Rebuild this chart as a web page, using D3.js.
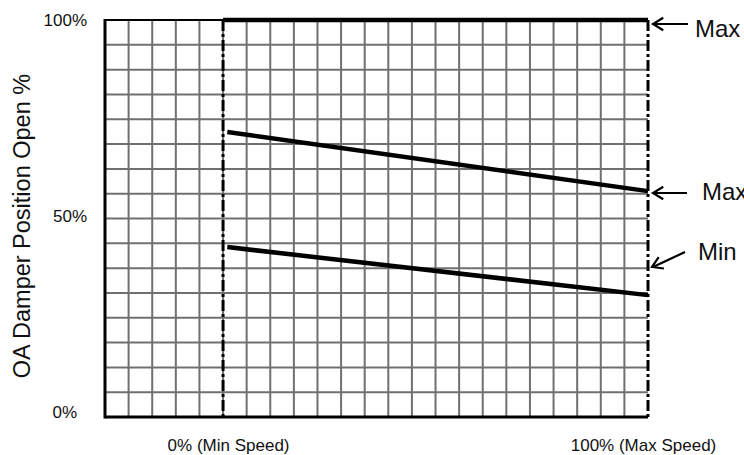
<!DOCTYPE html>
<html>
<head>
<meta charset="utf-8">
<script src="https://cdn.jsdelivr.net/npm/d3@7/dist/d3.min.js"></script>
<style>
  html, body { margin: 0; padding: 0; background: #fff; }
  svg { display: block; }
  text { font-family: "Liberation Sans", Arial, sans-serif; fill: #111; }
</style>
</head>
<body>
<svg id="chart" width="744" height="455"></svg>
<script>
// ---- data ----
const speedTicks = [0, 100];
const speedTickLabels = ["0% (Min Speed)", "100% (Max Speed)"];
const positionTicks = [0, 50, 100];
const positionTickLabels = ["0%", "50%", "100%"];
const seriesNames = ["Max", "Max", "Min"];
const seriesSpeed = [[0, 100], [1, 100], [1, 100]];
const seriesPosition = [[100, 100], [71.8, 56.9], [42.8, 30.7]];
const gridColumns = 23;   // grid cells across
const gridRows = 16;      // grid cells up
const minSpeedColumn = 5; // column where 0% speed sits

(function () {
const svg = d3.select("#chart");
const pL = 105, pR = 648, pT = 20, pB = 417;

const col = d3.scaleLinear().domain([0, gridColumns]).range([pL, pR]);
const x = d3.scaleLinear().domain([0, 100]).range([col(minSpeedColumn), pR]);
const y = d3.scaleLinear().domain([0, 100]).range([pB, pT]);
const row = d3.scaleLinear().domain([0, gridRows]).range([pB, pT]);

// grid
const g = svg.append("g");
g.selectAll("line.v").data(d3.range(1, gridColumns)).join("line")
  .attr("x1", d => col(d)).attr("x2", d => col(d))
  .attr("y1", pT).attr("y2", pB)
  .attr("stroke", "#707070").attr("stroke-width", 2);
g.selectAll("line.h").data(d3.range(1, gridRows)).join("line")
  .attr("x1", pL).attr("x2", pR)
  .attr("y1", d => row(d)).attr("y2", d => row(d))
  .attr("stroke", "#707070").attr("stroke-width", 2);

// frame
g.append("line").attr("x1", pL).attr("x2", x(0)).attr("y1", pT).attr("y2", pT)
  .attr("stroke", "#000").attr("stroke-width", 2);
g.append("line").attr("x1", pL).attr("x2", pL).attr("y1", pT - 1).attr("y2", pB + 1.5)
  .attr("stroke", "#000").attr("stroke-width", 3);
g.append("line").attr("x1", pL).attr("x2", pR).attr("y1", pB).attr("y2", pB)
  .attr("stroke", "#000").attr("stroke-width", 3);

// dash-dot verticals at min & max speed
svg.selectAll("line.dd").data(speedTicks).join("line")
  .attr("x1", d => x(d)).attr("x2", d => x(d))
  .attr("y1", pT).attr("y2", pB + 1)
  .attr("stroke", "#000").attr("stroke-width", 3)
  .attr("stroke-dasharray", "11,3,3,3");

// series lines
const line = d3.line().x(d => x(d[0])).y(d => y(d[1]));
svg.selectAll("path.s").data(seriesSpeed.map((s, i) => s.map((v, j) => [v, seriesPosition[i][j]])))
  .join("path")
  .attr("d", line)
  .attr("fill", "none").attr("stroke", "#000").attr("stroke-width", 4.5);

// x axis labels
const xAxis = d3.axisBottom(x).tickValues(speedTicks).tickSize(0)
  .tickFormat((d, i) => speedTickLabels[i]);
const xa = svg.append("g").attr("transform", `translate(0,${pB})`).call(xAxis);
xa.select(".domain").remove();
xa.selectAll("text").attr("font-size", 17).attr("font-family", "Liberation Sans, Arial, sans-serif")
  .attr("fill", "#111").attr("y", 34).attr("dy", 0)
  .attr("dx", (d, i) => i === 0 ? 5 : -5);

// y axis labels
const yAxis = d3.axisLeft(y).tickValues(positionTicks).tickSize(0)
  .tickFormat((d, i) => positionTickLabels[i]);
const ya = svg.append("g").attr("transform", `translate(${pL},0)`).call(yAxis);
ya.select(".domain").remove();
ya.selectAll("text").attr("font-size", 17).attr("font-family", "Liberation Sans, Arial, sans-serif")
  .attr("fill", "#111").attr("x", d => d === 0 ? -28 : -18)
  .attr("dy", d => d === 0 ? "0.0em" : (d === 100 ? "0.35em" : "0.2em"));

// y title
svg.append("text")
  .attr("transform", `translate(30, 226) rotate(-90)`)
  .attr("text-anchor", "middle")
  .attr("font-size", 23.5)
  .text("OA Damper Position Open %");

// annotations with arrows
const annot = [
  { tip: [653, 24], tail: [688, 24], label: [695, 37] },
  { tip: [653, 193], tail: [687, 193], label: [702, 200] },
  { tip: [652, 267], tail: [685, 252], label: [698, 260] }
];
annot.forEach((a, i) => {
  svg.append("line").attr("x1", a.tip[0] + 1).attr("y1", a.tip[1]).attr("x2", a.tail[0]).attr("y2", a.tail[1])
    .attr("stroke", "#000").attr("stroke-width", 2.2);
  const ang = Math.atan2(a.tail[1] - a.tip[1], a.tail[0] - a.tip[0]);
  const L = 12, W = 0.55;
  const p1 = [a.tip[0] + L * Math.cos(ang + W), a.tip[1] + L * Math.sin(ang + W)];
  const p2 = [a.tip[0] + L * Math.cos(ang - W), a.tip[1] + L * Math.sin(ang - W)];
  svg.append("path").attr("d", `M${p1}L${a.tip}L${p2}`)
    .attr("fill", "none").attr("stroke", "#000").attr("stroke-width", 2.2);
  svg.append("text").attr("x", a.label[0]).attr("y", a.label[1])
    .attr("font-size", 24).text(seriesNames[i]);
});
})();
</script>
</body>
</html>
